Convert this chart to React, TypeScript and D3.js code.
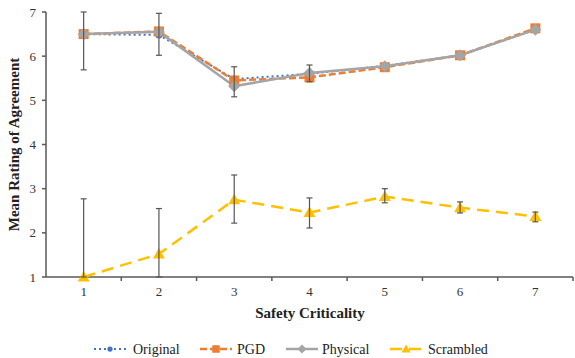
import * as d3 from 'd3'

const categories = [1, 2, 3, 4, 5, 6, 7]
const yTicks = [1, 2, 3, 4, 5, 6, 7]

const original = [6.5, 6.48, 5.48, 5.6, 5.78, 6.02, 6.6]
const pgd = [6.5, 6.56, 5.45, 5.52, 5.75, 6.02, 6.63]
const physical = [6.5, 6.55, 5.32, 5.62, 5.77, 6.02, 6.6]
const scrambled = [1.0, 1.52, 2.75, 2.46, 2.82, 2.57, 2.37]

// error bars [low, high]
const topErr = [[5.69, 7.0], [6.02, 6.97], [5.08, 5.76], [5.42, 5.8], null, null, null]
const scrErr = [[1.0, 2.77], [1.0, 2.55], [2.22, 3.31], [2.11, 2.79], [2.68, 3.0], [2.45, 2.7], [2.25, 2.47]]

const FONT = 'Liberation Serif, DejaVu Serif, serif'
const AXIS = '#595959'

export default function App() {
  const width = 575
  const height = 358
  const left = 46
  const right = 573
  const top = 12
  const bottom = 277

  const x = d3.scaleBand<number>().domain(categories).range([left, right]).padding(0)
  const cx = (c: number) => (x(c) ?? 0) + x.bandwidth() / 2
  const y = d3.scaleLinear().domain([1, 7]).range([bottom, top])

  const line = d3.line<number>().x((_, i) => cx(categories[i])).y(d => y(d))

  const series = [
    { name: 'Original', data: original, color: '#4472C4', dash: '2,3', width: 2, marker: 'circle' },
    { name: 'PGD', data: pgd, color: '#ED7D31', dash: '7,3', width: 2.5, marker: 'square' },
    { name: 'Physical', data: physical, color: '#A5A5A5', dash: '', width: 2.5, marker: 'diamond' },
    { name: 'Scrambled', data: scrambled, color: '#FFC000', dash: '12,7', width: 2.5, marker: 'triangle' },
  ]

  const marker = (kind: string, px: number, py: number, color: string, key: string, s = 1) => {
    if (kind === 'circle') return <circle key={key} cx={px} cy={py} r={3.5 * s} fill={color} />
    if (kind === 'square') return <rect key={key} x={px - 5 * s} y={py - 5 * s} width={10 * s} height={10 * s} fill={color} />
    if (kind === 'diamond') return <path key={key} d={`M${px},${py - 6 * s}L${px + 6 * s},${py}L${px},${py + 6 * s}L${px - 6 * s},${py}Z`} fill={color} />
    return <path key={key} d={`M${px},${py - 6 * s}L${px + 6 * s},${py + 4.5 * s}L${px - 6 * s},${py + 4.5 * s}Z`} fill={color} />
  }

  const errBar = (e: number[] | null, c: number, key: string) => {
    if (!e) return null
    const px = cx(c)
    return (
      <g key={key} stroke="#555" strokeWidth={1.2}>
        <line x1={px} x2={px} y1={y(e[0])} y2={y(e[1])} />
        <line x1={px - 3} x2={px + 3} y1={y(e[0])} y2={y(e[0])} />
        <line x1={px - 3} x2={px + 3} y1={y(e[1])} y2={y(e[1])} />
      </g>
    )
  }

  const legendItems = [
    { s: series[0], lx: 94, tx: 133 },
    { s: series[1], lx: 200, tx: 237 },
    { s: series[2], lx: 286, tx: 322 },
    { s: series[3], lx: 390, tx: 428 },
  ]

  return (
    <svg width={width} height={height} style={{ position: 'absolute', left: 0, top: 0, background: '#fff' }}>
      <g fontFamily={FONT}>
        {/* y axis */}
        <line x1={left} x2={left} y1={top} y2={bottom} stroke={AXIS} strokeWidth={1.5} />
        {yTicks.map(t => (
          <g key={`yt${t}`}>
            <line x1={left - 4} x2={left} y1={y(t)} y2={y(t)} stroke={AXIS} strokeWidth={1.5} />
            <text x={left - 10} y={y(t)} dy="0.35em" textAnchor="end" fontSize={13} fill="#333">{t}</text>
          </g>
        ))}
        {/* x axis */}
        <line x1={left} x2={right} y1={bottom} y2={bottom} stroke={AXIS} strokeWidth={1.5} />
        {categories.map(c => (
          <g key={`xt${c}`}>
            <line x1={(x(c) ?? 0) + x.bandwidth()} x2={(x(c) ?? 0) + x.bandwidth()} y1={bottom} y2={bottom + 4} stroke={AXIS} strokeWidth={1.5} />
            <text x={cx(c)} y={bottom + 19} textAnchor="middle" fontSize={13} fill="#333">{c}</text>
          </g>
        ))}
        <text x={310} y={318} textAnchor="middle" fontSize={15} fontWeight="bold" fill="#222">Safety Criticality</text>
        <text transform={`translate(19,${(top + bottom) / 2}) rotate(-90)`} textAnchor="middle" fontSize={15} fontWeight="bold" fill="#222">Mean Rating of Agreement</text>

        {/* lines */}
        {series.map(s => (
          <path key={s.name} d={line(s.data) ?? ''} fill="none" stroke={s.color} strokeWidth={s.width} strokeDasharray={s.dash || undefined} />
        ))}
        {/* markers */}
        {series.map(s => s.data.map((v, i) => marker(s.marker, cx(categories[i]), y(v), s.color, `${s.name}${i}`)))}
        {/* error bars */}
        {topErr.map((e, i) => errBar(e, categories[i], `te${i}`))}
        {scrErr.map((e, i) => errBar(e, categories[i], `se${i}`))}

        {/* legend */}
        {legendItems.map(({ s, lx, tx }) => (
          <g key={`lg${s.name}`}>
            <line x1={lx} x2={lx + 32} y1={349} y2={349} stroke={s.color} strokeWidth={s.width} strokeDasharray={s.dash || undefined} />
            {marker(s.marker, lx + 16, 349, s.color, `lm${s.name}`, 0.75)}
            <text x={tx} y={349} dy="0.35em" fontSize={14} fill="#222">{s.name}</text>
          </g>
        ))}
      </g>
    </svg>
  )
}
